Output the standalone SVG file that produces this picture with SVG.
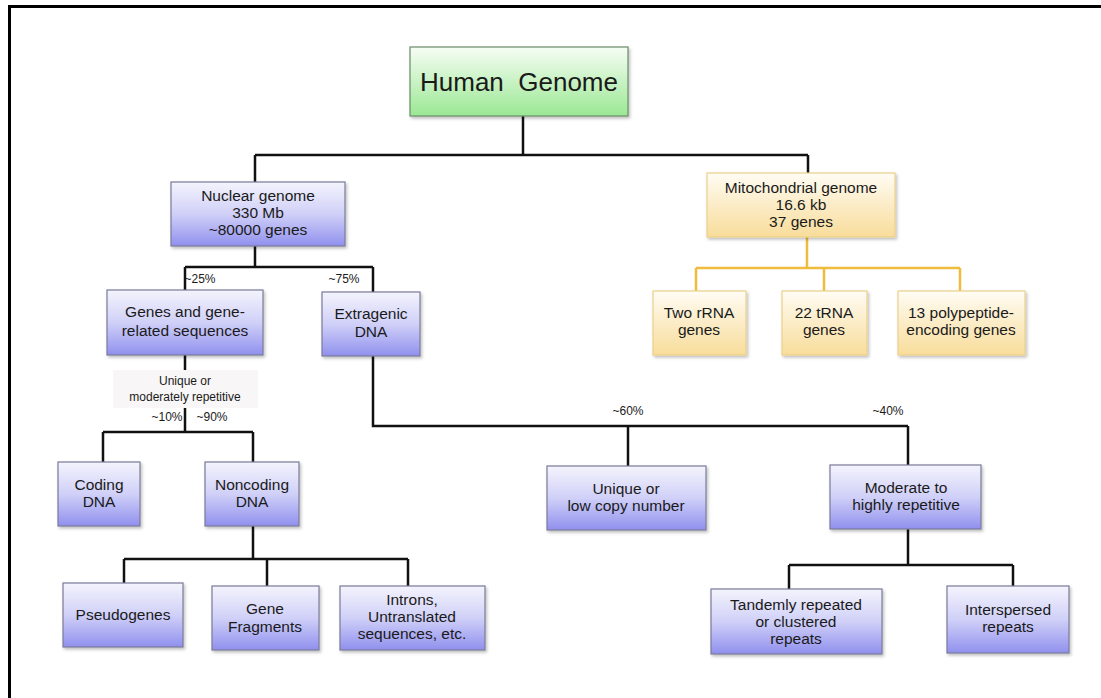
<svg xmlns="http://www.w3.org/2000/svg" width="1101" height="698" viewBox="0 0 1101 698">
<defs>
<linearGradient id="gb" x1="0" y1="0" x2="0" y2="1">
<stop offset="0" stop-color="#f4f4fd"/>
<stop offset="0.5" stop-color="#d0d0f8"/>
<stop offset="1" stop-color="#9090ee"/>
</linearGradient>
<linearGradient id="gg" x1="0" y1="0" x2="0" y2="1">
<stop offset="0" stop-color="#f6fdf4"/>
<stop offset="1" stop-color="#9be894"/>
</linearGradient>
<linearGradient id="go" x1="0" y1="0" x2="0" y2="1">
<stop offset="0" stop-color="#fffcf4"/>
<stop offset="1" stop-color="#f8dc9a"/>
</linearGradient>
<filter id="sh" x="-10%" y="-10%" width="130%" height="140%">
<feDropShadow dx="1.5" dy="2" stdDeviation="1.5" flood-color="#000" flood-opacity="0.25"/>
</filter>
</defs>
<style>
.b{fill:url(#gb);stroke:#7a7a9a;stroke-width:1.2;filter:url(#sh)}
.g{fill:url(#gg);stroke:#6a8a6a;stroke-width:1.2;filter:url(#sh)}
.o{fill:url(#go);stroke:#ecd08a;stroke-width:1.2;filter:url(#sh)}
text{font-family:"Liberation Sans",Arial,sans-serif;fill:#1a1a1a;text-anchor:middle}
.t{font-size:15.5px}
.s{font-size:12px}
.k{fill:none;stroke:#111;stroke-width:2.5}
.y{fill:none;stroke:#f0bc3c;stroke-width:2.5}
</style>
<rect width="1101" height="698" fill="#fff"/>
<path d="M9.5 698 V6.5 H1101" fill="none" stroke="#000" stroke-width="3"/>
<g id="connectors">
<path class="k" d="M523 116 V155 M255 155 H808 M255 155 V182 M808 155 V173"/>
<path class="k" d="M255 246 V267 M185 267 H373 M185 267 V290 M373 267 V292"/>
<path class="k" d="M373 356 V426 H908 M628 426 V466 M908 426 V465"/>
<path class="k" d="M908 529 V565 M789 565 H1013 M789 565 V589 M1013 565 V586"/>
<path class="k" d="M185 355 V370 M185 408 V432 M103 432 H253 M103 432 V462 M253 432 V462"/>
<path class="k" d="M253 526 V559 M124 559 H408 M124 559 V583 M267 559 V586 M408 559 V586"/>
<path class="y" d="M807 237 V268 M696 268 H960 M696 268 V291 M824 268 V291 M960 268 V291"/>
</g>
<g id="labels">
<text class="s" x="200" y="283">~25%</text>
<text class="s" x="344" y="283">~75%</text>
<text class="s" x="628" y="415">~60%</text>
<text class="s" x="888" y="415">~40%</text>
<rect x="113" y="370" width="145" height="38" fill="#f8f6f6"/>
<text class="s" x="185" y="385">Unique or</text>
<text class="s" x="185" y="401">moderately repetitive</text>
<text class="s" x="167" y="421">~10%</text>
<text class="s" x="212" y="421">~90%</text>
</g>
<g id="human-genome">
<rect class="g" x="410" y="47" width="218" height="69"/>
<text x="519" y="91" font-size="26" xml:space="preserve" style="white-space:pre">Human  Genome</text>
</g>
<g id="nuclear-genome">
<rect class="b" x="171" y="182" width="174" height="64"/>
<text class="t" x="258" y="201">Nuclear genome</text>
<text class="t" x="258" y="218">330 Mb</text>
<text class="t" x="258" y="235">~80000 genes</text>
</g>
<g id="mitochondrial-genome">
<rect class="o" x="707" y="173" width="188" height="64"/>
<text class="t" x="801" y="193">Mitochondrial genome</text>
<text class="t" x="801" y="210">16.6 kb</text>
<text class="t" x="801" y="227">37 genes</text>
</g>
<g id="rrna">
<rect class="o" x="653" y="291" width="93" height="64"/>
<text class="t" x="699" y="318">Two rRNA</text>
<text class="t" x="699" y="335">genes</text>
</g>
<g id="trna">
<rect class="o" x="782" y="291" width="85" height="64"/>
<text class="t" x="824" y="318">22 tRNA</text>
<text class="t" x="824" y="335">genes</text>
</g>
<g id="polypeptide">
<rect class="o" x="898" y="291" width="127" height="64"/>
<text class="t" x="961" y="318">13 polypeptide-</text>
<text class="t" x="961" y="335">encoding genes</text>
</g>
<g id="genes">
<rect class="b" x="107" y="290" width="156" height="65"/>
<text class="t" x="185" y="317">Genes and gene-</text>
<text class="t" x="185" y="336">related sequences</text>
</g>
<g id="extragenic">
<rect class="b" x="322" y="292" width="98" height="64"/>
<text class="t" x="371" y="319">Extragenic</text>
<text class="t" x="371" y="337">DNA</text>
</g>
<g id="coding">
<rect class="b" x="58" y="462" width="82" height="64"/>
<text class="t" x="99" y="490">Coding</text>
<text class="t" x="99" y="507">DNA</text>
</g>
<g id="noncoding">
<rect class="b" x="205" y="462" width="94" height="64"/>
<text class="t" x="252" y="490">Noncoding</text>
<text class="t" x="252" y="507">DNA</text>
</g>
<g id="pseudogenes">
<rect class="b" x="63" y="583" width="120" height="64"/>
<text class="t" x="123" y="620">Pseudogenes</text>
</g>
<g id="gene-fragments">
<rect class="b" x="212" y="586" width="107" height="64"/>
<text class="t" x="265" y="614">Gene</text>
<text class="t" x="265" y="632">Fragments</text>
</g>
<g id="introns">
<rect class="b" x="340" y="586" width="145" height="64"/>
<text class="t" x="412" y="605">Introns,</text>
<text class="t" x="412" y="622">Untranslated</text>
<text class="t" x="412" y="639">sequences, etc.</text>
</g>
<g id="unique-low">
<rect class="b" x="547" y="466" width="159" height="64"/>
<text class="t" x="626" y="494">Unique or</text>
<text class="t" x="626" y="511">low copy number</text>
</g>
<g id="moderate">
<rect class="b" x="830" y="465" width="151" height="64"/>
<text class="t" x="906" y="493">Moderate to</text>
<text class="t" x="906" y="510">highly repetitive</text>
</g>
<g id="tandem">
<rect class="b" x="711" y="589" width="171" height="65"/>
<text class="t" x="796" y="610">Tandemly repeated</text>
<text class="t" x="796" y="627">or clustered</text>
<text class="t" x="796" y="644">repeats</text>
</g>
<g id="interspersed">
<rect class="b" x="947" y="586" width="122" height="67"/>
<text class="t" x="1008" y="615">Interspersed</text>
<text class="t" x="1008" y="632">repeats</text>
</g>
</svg>
